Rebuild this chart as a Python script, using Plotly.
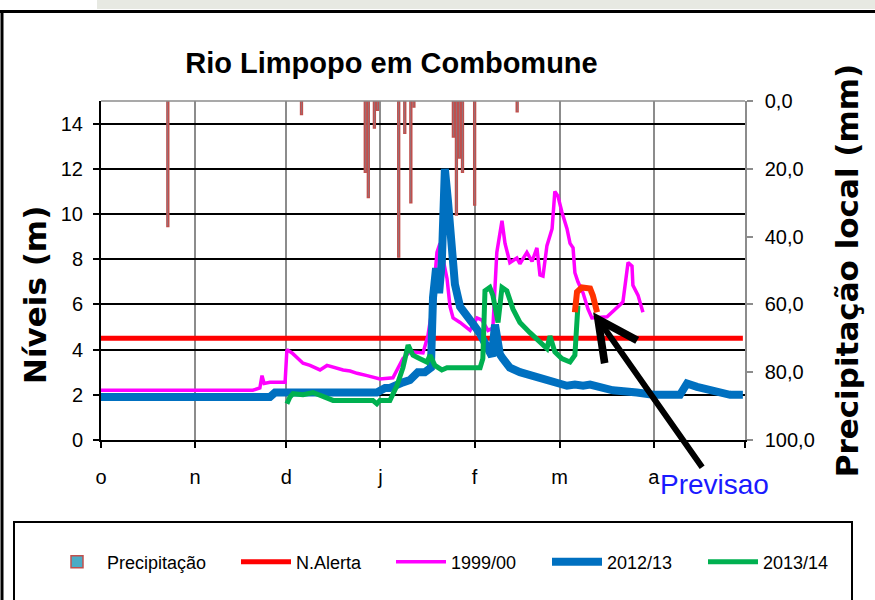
import plotly.graph_objects as go

# ---------------- data ----------------
month_starts = [0, 31, 61, 92, 123, 151, 182, 212]
month_labels = ["o", "n", "d", "j", "f", "m", "a", ""]

precip_day = [22, 66, 87, 88, 90, 91, 98, 100, 102, 103, 116, 117, 118, 119, 123, 137]
precip_mm = [37, 4, 21, 28.5, 8, 2.7, 46, 9.5, 30, 1.8, 10.6, 33.6, 16.8, 21, 30.7, 3.2]

alert_day = [0, 211.3]
alert_level = [4.5, 4.5]

y1999_day = [0, 50.0, 52.3, 53.0, 53.7, 55.6, 60.6, 61.2, 62.9, 65.5, 66.5, 68.8, 72.1, 74.4,
             77.0, 79.7, 82.0, 84.3, 87.6, 91.8, 96.1, 99.4, 101.7, 106.0, 107.6, 109.0, 110.6,
             111.6, 112.6, 113.9, 114.9, 115.9, 118.2, 121.5, 123.8, 125.4, 127.4, 129.0, 130.3,
             132.0, 133.0, 134.6, 136.9, 137.9, 140.2, 141.9, 143.5, 144.5, 145.5, 146.8, 148.5,
             149.4, 150.4, 151.7, 153.4, 154.4, 155.4, 156.0, 157.0, 158.7, 160.3, 161.6, 166.6,
             171.8, 173.5, 174.8, 175.1, 176.8, 178.4]
y1999_level = [2.2, 2.2, 2.3, 2.85, 2.5, 2.55, 2.55, 4.0, 3.85, 3.5, 3.4, 3.3, 3.1, 3.3,
               3.2, 3.1, 3.05, 2.95, 2.85, 2.7, 2.75, 3.6, 3.9, 3.85, 4.6, 5.8, 8.3,
               8.7, 8.0, 7.15, 5.9, 5.4, 5.2, 4.85, 5.4, 5.3, 4.85, 4.95, 8.3,
               9.7, 8.7, 7.85, 8.05, 7.8, 8.3, 7.9, 8.5, 7.3, 7.25, 8.6, 9.35,
               11.0, 10.8, 10.1, 9.35, 8.7, 8.5, 7.4, 7.0, 6.5, 5.8, 5.4, 5.45,
               6.1, 7.85, 7.7, 6.85, 6.4, 5.65]

y2012_day = [0, 55.6, 57.3, 90.8, 93.5, 95.1, 99.4, 101.7, 104.3, 106.6, 108.6, 109.3, 110.3,
             111.3, 112.2, 113.2, 114.2, 115.5, 116.5, 118.2, 120.5, 122.4, 124.8, 127.1, 128.7,
             129.7, 131.3, 132.3, 134.6, 137.9, 143.5, 148.8, 153.4, 156.0, 158.7, 161.0, 164.3,
             168.5, 176.4, 181.7, 190.6, 192.9, 196.2, 201.4, 207.1, 211.3]
y2012_level = [1.9, 1.9, 2.1, 2.1, 2.3, 2.3, 2.55, 2.65, 3.0, 3.0, 3.2, 6.3, 7.6,
               6.5, 7.9, 12.0, 10.6, 8.8, 6.9, 5.9, 5.4, 5.15, 4.7, 4.1, 3.7,
               5.1, 3.8, 3.6, 3.2, 3.0, 2.8, 2.55, 2.4, 2.45, 2.4, 2.45, 2.3,
               2.2, 2.1, 2.0, 2.0, 2.5, 2.35, 2.2, 2.0, 2.0]

y2013_day = [61.2, 62.2, 63.2, 66.5, 69.8, 73.1, 76.4, 89.5, 90.8, 91.8, 95.1, 97.4, 99.4,
             101.1, 102.7, 105.0, 107.3, 108.3, 109.9, 112.2, 113.9, 124.8, 125.7, 126.4, 128.0,
             129.0, 130.7, 132.0, 133.6, 135.6, 137.9, 141.2, 144.5, 146.8, 147.8, 149.4, 151.7,
             154.4, 156.0, 156.7, 157.0]
y2013_level = [1.6, 1.9, 2.05, 2.0, 2.1, 1.9, 1.75, 1.75, 1.6, 1.75, 1.75, 2.4, 3.2,
               4.2, 3.75, 3.6, 3.45, 3.75, 3.3, 3.1, 3.2, 3.2, 3.6, 6.6, 6.75,
               6.4, 5.2, 6.75, 6.6, 5.8, 5.2, 4.75, 4.3, 4.05, 4.6, 3.9, 3.6,
               3.45, 3.75, 5.65, 5.95]

forecast_day = [156.0, 156.7, 158.3, 161.0, 161.9, 163.3]
forecast_level = [5.65, 6.55, 6.75, 6.7, 6.4, 5.65]

# ---------------- layout helpers ----------------
W, H = 875, 600
PL, PR, PT, PB = 101, 745, 101, 440


def pxx(x):
    return (x - PL) / (PR - PL)


def pxy(y):
    return (PB - y) / (PB - PT)


REG = "Liberation Sans, Arial, sans-serif"
WIDE = "DejaVu Sans, Verdana, sans-serif"

fig = go.Figure()

fig.add_trace(go.Bar(
    x=precip_day, y=precip_mm, yaxis="y2", width=0.6, name="Precipitação",
    marker=dict(color="#4BACC6", line=dict(color="#C0504D", width=1.5)),
    legend="legend",
))
fig.add_trace(go.Scatter(
    x=alert_day, y=alert_level, mode="lines", name="N.Alerta",
    line=dict(color="#FF0000", width=5), legend="legend2",
))
fig.add_trace(go.Scatter(
    x=y1999_day, y=y1999_level, mode="lines", name="1999/00",
    line=dict(color="#FF00FF", width=3.5), legend="legend3",
))
fig.add_trace(go.Scatter(
    x=y2012_day, y=y2012_level, mode="lines", name="2012/13",
    line=dict(color="#0070C0", width=8), legend="legend4",
))
fig.add_trace(go.Scatter(
    x=y2013_day, y=y2013_level, mode="lines", name="2013/14",
    line=dict(color="#00B050", width=5), legend="legend5",
))
fig.add_trace(go.Scatter(
    x=forecast_day, y=forecast_level, mode="lines", name="Previsao",
    line=dict(color="#FF3300", width=6), showlegend=False,
))

legend_common = dict(
    orientation="h", xref="paper", yref="paper", yanchor="middle", xanchor="left",
    y=pxy(562), bgcolor="rgba(0,0,0,0)", borderwidth=0,
    font=dict(family=REG, size=18, color="black"), itemwidth=50,
)
legend_x = [47, 236, 391, 547, 703]

layout_legends = {}
for i, lx in enumerate(legend_x):
    key = "legend" if i == 0 else f"legend{i + 1}"
    layout_legends[key] = dict(legend_common, x=pxx(lx))

shapes = [
    # faded picture strip at the very top
    dict(type="rect", xref="paper", yref="paper", x0=pxx(97), x1=pxx(875), y0=pxy(9), y1=pxy(0),
         fillcolor="#E7E9E2", line=dict(width=0), layer="below"),
    # outer frame
    dict(type="line", xref="paper", yref="paper", x0=pxx(0), x1=pxx(875), y0=pxy(11.5), y1=pxy(11.5),
         line=dict(color="black", width=3)),
    dict(type="line", xref="paper", yref="paper", x0=pxx(2), x1=pxx(2), y0=pxy(11.5), y1=pxy(600),
         line=dict(color="black", width=3)),
    # plot top border
    dict(type="line", xref="paper", yref="paper", x0=0, x1=1, y0=1, y1=1,
         line=dict(color="#8C8C8C", width=1.5)),
    # legend box
    dict(type="rect", xref="paper", yref="paper", x0=pxx(14), x1=pxx(852), y0=pxy(610), y1=pxy(522),
         line=dict(color="black", width=2), fillcolor="rgba(0,0,0,0)"),
]

fig.update_layout(
    width=W, height=H,
    margin=dict(l=PL, r=W - PR, t=PT, b=H - PB, autoexpand=False),
    paper_bgcolor="white", plot_bgcolor="white",
    separators=",.",
    showlegend=True,
    title=dict(text="Rio Limpopo em Combomune", x=391.5 / W, xref="container", xanchor="center",
               y=1 - 63 / H, yref="container", yanchor="middle",
               font=dict(family=REG, size=29, color="black", weight="bold")),
    xaxis=dict(range=[0, 212], tickmode="array", tickvals=month_starts, ticktext=month_labels,
               showgrid=True, gridcolor="#8C8C8C", gridwidth=1.5, zeroline=False,
               showline=True, linecolor="black", linewidth=2,
               ticks="outside", ticklen=6, tickwidth=2, tickcolor="black",
               tickfont=dict(family=REG, size=20, color="black"), ticklabelstandoff=12),
    yaxis=dict(range=[0, 15], tickmode="array", tickvals=[0, 2, 4, 6, 8, 10, 12, 14],
               showgrid=True, gridcolor="black", gridwidth=2, zeroline=False,
               showline=True, linecolor="black", linewidth=2,
               ticks="outside", ticklen=6, tickwidth=2, tickcolor="black",
               tickfont=dict(family=REG, size=20, color="black"), ticklabelstandoff=6),
    yaxis2=dict(overlaying="y", side="right", range=[100, 0], tickmode="array",
                tickvals=[0, 20, 40, 60, 80, 100], tickformat=".1f",
                showgrid=False, zeroline=False,
                showline=True, linecolor="#8C8C8C", linewidth=1.5,
                ticks="outside", ticklen=6, tickwidth=1.5, tickcolor="#8C8C8C",
                tickfont=dict(family=REG, size=20, color="black"), ticklabelstandoff=8,
                title=dict(text="Precipitação local (mm)", standoff=22,
                           font=dict(family=WIDE, size=31, color="black", weight="bold"))),
    shapes=shapes,
    annotations=[
        dict(x=pxx(35), y=pxy(295), xref="paper", yref="paper", text="Níveis (m)",
             textangle=-90, showarrow=False, xanchor="center", yanchor="middle",
             font=dict(family=WIDE, size=31, color="black", weight="bold")),
        dict(x=162, y=5.65, xref="x", yref="y", text="Previsao", showarrow=True,
             arrowhead=5, arrowsize=1.3, arrowwidth=6, arrowcolor="black",
             ax=121, ay=172, standoff=0,
             font=dict(family=REG, size=28, color="#1A1AFF")),
    ],
    **layout_legends,
)

fig.write_html("out.html", config={"displayModeBar": False},
               post_script="document.body.style.margin='0';")
